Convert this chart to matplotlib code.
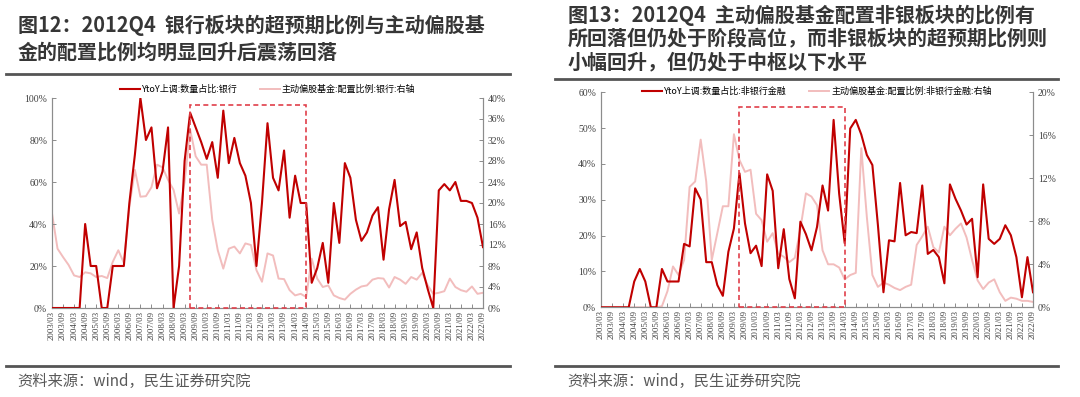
import matplotlib
matplotlib.use("Agg")
import matplotlib.pyplot as plt
from matplotlib.lines import Line2D
from matplotlib.patches import Rectangle
from matplotlib.ticker import MultipleLocator, FuncFormatter

plt.rcParams['font.family'] = ['Noto Sans CJK SC', 'DejaVu Sans']

# ---------------- data (quarterly, 2003/03 - 2022/09) ---------------- #
dates = [f"{y}/{m}" for y in range(2003, 2023) for m in ("03", "06", "09", "12")][:79]

# 图12: 银行
bank_up = [0, 0, 0, 0, 0, 0, 40, 20, 20, 0, 0, 20, 20, 20, 50, 73, 100, 80, 86, 57,
           65, 86, 0, 20, 70, 93, 86, 79, 71, 79, 62, 94, 69, 81, 69, 63, 50, 20, 50, 88,
           62, 56, 75, 43, 63, 50, 50, 12, 19, 31, 12, 50, 31, 69, 62, 42, 32, 36, 44, 48,
           23, 47, 61, 39, 41, 28, 36, 19, 9, 0, 56, 59, 56, 60, 51, 51, 50, 43, 29]
bank_fund = [18, 11.3, 9.7, 8.2, 6.2, 5.9, 6.8, 6.6, 5.9, 6.1, 5.7, 8.8, 11, 8.6, 19.3, 26.3,
             21.2, 21.3, 23, 27.3, 26.8, 24.4, 22.5, 18, 24, 34, 28.9, 27.3, 27.3, 16.8, 11,
             7.5, 11.3, 11.7, 10.4, 12.3, 12, 7.2, 5, 10.4, 10, 5.6, 5.5, 3.4, 2.4, 2.7, 2.1,
             9.4, 5.6, 4, 4.3, 2.4, 1.9, 1.6, 2.7, 3.5, 4.1, 4.3, 5.4, 5.7, 5.6, 3.9, 5.9,
             5.4, 4.6, 5.9, 5.4, 6.7, 4.3, 2.7, 2.9, 3.2, 5.6, 4, 3.4, 3.1, 4.1, 2.7, 2.9]

# 图13: 非银行金融
nonbank_up = [0, 0, 0, 0, 0, 0, 7.2, 10.7, 7.2, 0, 0, 10.7, 7.2, 7.2, 7.2, 17.7, 17, 33.2,
              30.1, 12.6, 12.6, 6.2, 3.2, 15.5, 22, 37.4, 23.4, 15.1, 17.2, 11.5, 37.1, 32.5,
              10.9, 21.8, 7.9, 2.5, 23.9, 20.4, 15.9, 22.4, 34, 27, 52.3, 31.7, 17.9, 49.9,
              52.3, 48.2, 42.5, 39.7, 22.9, 4.2, 18.7, 18.4, 34.7, 20.1, 21, 20.7, 34, 14.9,
              16, 14, 6.7, 34.3, 30.3, 27, 23.1, 24.7, 8.4, 34.3, 19.1, 17.7, 19.1, 22.9,
              20.1, 14, 2.8, 14, 4.2]
nonbank_fund = [0, 0, 0, 0, 0, 0, 0, 0, 0, 0, 0, 0.1, 1.5, 3.8, 3, 4.4, 11.2, 11.7, 15.6,
                11.7, 4.4, 6.9, 9.4, 9.4, 16.1, 13.7, 12.6, 12.8, 8.7, 8.1, 6.1, 6.9, 5, 4.7,
                4.2, 4.6, 7.3, 10.6, 10.3, 9.5, 5.3, 4, 4, 3.7, 2.6, 3, 3.2, 14.8, 8.4, 3,
                1.9, 2.3, 2.1, 1.8, 1.6, 1.9, 2.1, 5.8, 6.6, 7.5, 5.6, 5.1, 7.5, 6.7, 7.3,
                7.8, 6.5, 4.4, 2.5, 1.7, 2.3, 2.6, 1.4, 0.6, 0.9, 0.8, 0.6, 0.6, 0.5]

RED = '#C00000'
PINK = '#F2BDBD'
BOX = '#E0404A'
GRAY = '#8C8C8C'
SERIF = 'Liberation Serif'


def pct(v, pos):
    return f"{v:.0f}%"


def draw_panel(ax, up, fund, name, lmax, lstep, rmax, rstep, box, leg_y):
    x = list(range(len(dates)))
    ax2 = ax.twinx()
    ax2.plot(x, fund, color=PINK, lw=1.4, zorder=1)
    ax.plot(x, up, color=RED, lw=1.5, zorder=3)
    ax.set_zorder(ax2.get_zorder() + 1)
    ax.patch.set_visible(False)

    ax.set_xlim(0, len(dates) - 1)
    ax.set_ylim(0, lmax)
    ax2.set_ylim(0, rmax)
    ax.yaxis.set_major_locator(MultipleLocator(lstep))
    ax2.yaxis.set_major_locator(MultipleLocator(rstep))
    ax.yaxis.set_major_formatter(FuncFormatter(pct))
    ax2.yaxis.set_major_formatter(FuncFormatter(pct))
    ax.set_xticks(x[::2])
    ax.set_xticklabels(dates[::2], rotation=90, fontsize=6.3, family=SERIF, color='#404040')

    for a in (ax, ax2):
        a.spines['top'].set_visible(False)
        for s in ('left', 'right', 'bottom'):
            a.spines[s].set_color(GRAY)
            a.spines[s].set_linewidth(0.8)
        a.tick_params(direction='in', length=3, color=GRAY, width=0.7)
        for lab in a.get_yticklabels():
            lab.set_family(SERIF)
            lab.set_fontsize(7)
            lab.set_color('#404040')
    ax.tick_params(axis='x', pad=2)

    # dashed highlight box
    i0, i1 = dates.index(box[0]), dates.index(box[1])
    ax.add_patch(Rectangle((i0, 0), i1 - i0, box[2], fill=False, ls=(0, (3, 2)),
                           lw=1.2, edgecolor=BOX, zorder=4, clip_on=False))

    handles = [Line2D([], [], color=RED, lw=1.5), Line2D([], [], color=PINK, lw=1.4)]
    labels = [f"YtoY上调:数量占比:{name}", f"主动偏股基金:配置比例:{name}:右轴"]
    ax.legend(handles, labels, loc='center', bbox_to_anchor=(0.5, leg_y), ncol=2,
              frameon=False, fontsize=6.5, handlelength=2.2, handletextpad=0.2,
              columnspacing=2.5, borderaxespad=0)


fig = plt.figure(figsize=(10.8, 3.97), dpi=100)
W, H = 1080, 397

ax_l = fig.add_axes([52 / W, 1 - 308 / H, 431 / W, 210 / H])
draw_panel(ax_l, bank_up, bank_fund, "银行", 100, 20, 40, 4,
           ("2009/06", "2014/09", 96.7), 1.04)

ax_r = fig.add_axes([601 / W, 1 - 307.3 / H, 432 / W, 215 / H])
draw_panel(ax_r, nonbank_up, nonbank_fund, "非银行金融", 60, 10, 20, 4,
           ("2009/06", "2014/03", 56), 1.003)

# titles
title_kw = dict(fontsize=14.4, fontweight='bold', color='#363636', va='center', ha='left')
fig.text(18 / W, 1 - 25 / H, "图12：2012Q4  银行板块的超预期比例与主动偏股基", **title_kw)
fig.text(18 / W, 1 - 52 / H, "金的配置比例均明显回升后震荡回落", **title_kw)
fig.text(568 / W, 1 - 15 / H, "图13：2012Q4  主动偏股基金配置非银板块的比例有", **title_kw)
fig.text(568 / W, 1 - 38.5 / H, "所回落但仍处于阶段高位，而非银板块的超预期比例则", **title_kw)
fig.text(568 / W, 1 - 62 / H, "小幅回升，但仍处于中枢以下水平", **title_kw)

# separator lines
for x0, x1, y in ((6, 510, 74), (555, 1058, 79), (6, 510, 366), (555, 1058, 366)):
    fig.add_artist(Line2D([x0 / W, x1 / W], [1 - y / H, 1 - y / H], color='#555555', lw=2))

# sources
src_kw = dict(fontsize=11, color='#595959', va='center', ha='left')
fig.text(17 / W, 1 - 381 / H, "资料来源：wind，民生证券研究院", **src_kw)
fig.text(567 / W, 1 - 381 / H, "资料来源：wind，民生证券研究院", **src_kw)

fig.savefig("out.png", dpi=100)
